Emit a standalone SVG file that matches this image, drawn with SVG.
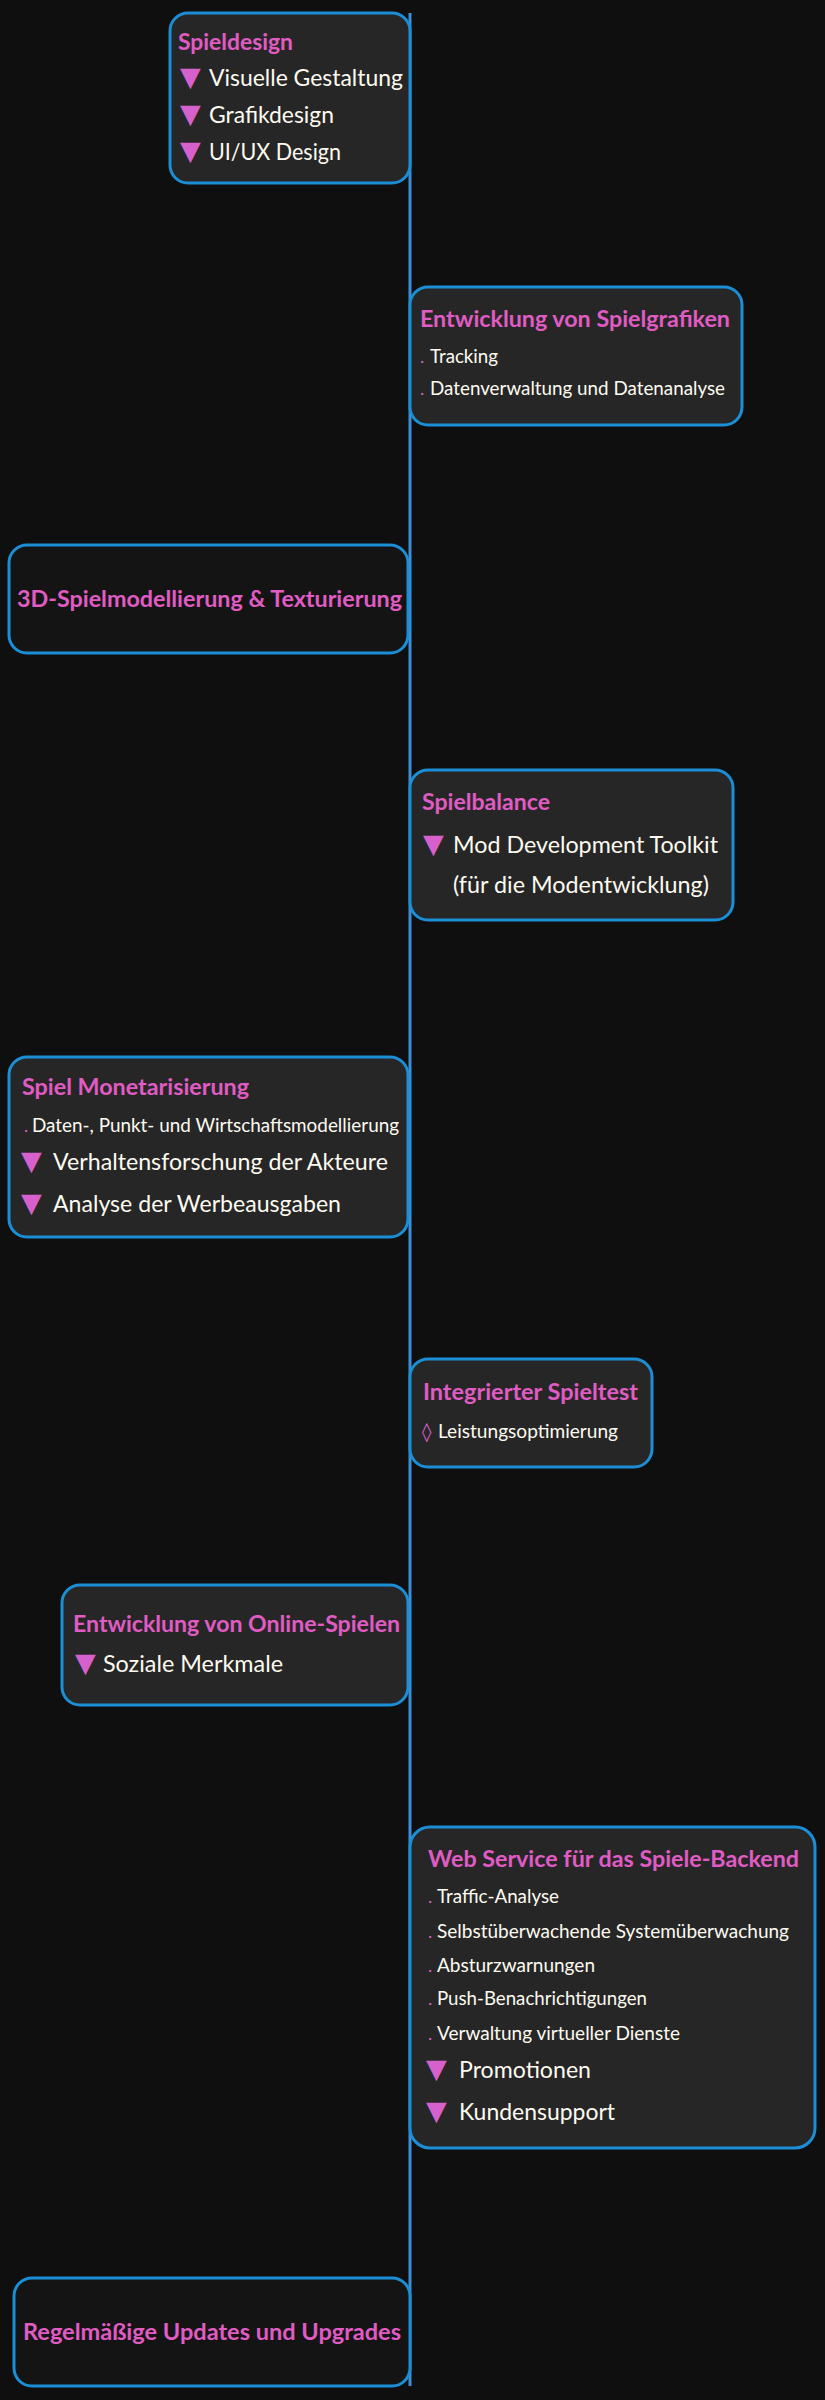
<svg xmlns="http://www.w3.org/2000/svg" width="825" height="2400" viewBox="0 0 825 2400">
<style>
.box{fill:#262626;stroke:#1b8ed6;stroke-width:3}
.box2{fill:#141414;stroke:#1b8ed6;stroke-width:3}
.t{font-family:Lato,"Liberation Sans",sans-serif;font-weight:bold;font-size:23px;fill:#e05cc4}
.m{font-family:Lato,"Liberation Sans",sans-serif;font-size:23px;fill:#fdfaf0}
.s{font-family:Lato,"Liberation Sans",sans-serif;font-size:18.5px;fill:#fdfaf0}
.tri{font-family:"DejaVu Sans",sans-serif;font-size:27px;fill:#d660cc}
.dot{font-family:Lato,"Liberation Sans",sans-serif;font-size:18px;fill:#d660cc}
.dia{font-family:"DejaVu Sans",sans-serif;font-size:19px;fill:#d660cc}
</style>
<rect width="825" height="2400" fill="#0f0f0f"/>
<g id="connectors">
<line x1="410" y1="13" x2="410" y2="2386" stroke="#3a8fd8" stroke-width="3"/>
</g>
<g id="spieldesign">
<rect class="box" x="170" y="13" width="240" height="170" rx="18"/>
<text class="t" x="178" y="50" textLength="115" lengthAdjust="spacingAndGlyphs">Spieldesign</text>
<text class="tri" x="180" y="86">▼</text>
<text class="m" x="209" y="86" textLength="194" lengthAdjust="spacingAndGlyphs">Visuelle Gestaltung</text>
<text class="tri" x="180" y="123">▼</text>
<text class="m" x="209" y="123" textLength="125" lengthAdjust="spacingAndGlyphs">Grafikdesign</text>
<text class="tri" x="180" y="160">▼</text>
<text class="m" x="209" y="160" textLength="132" lengthAdjust="spacingAndGlyphs">UI/UX Design</text>
</g>
<g id="spielgrafiken">
<rect class="box" x="410" y="287" width="332" height="138" rx="18"/>
<text class="t" x="420" y="327" textLength="310" lengthAdjust="spacingAndGlyphs">Entwicklung von Spielgrafiken</text>
<text class="dot" x="420" y="363">.</text>
<text class="s" x="430" y="363" textLength="68" lengthAdjust="spacingAndGlyphs">Tracking</text>
<text class="dot" x="420" y="395">.</text>
<text class="s" x="430" y="395" textLength="295" lengthAdjust="spacingAndGlyphs">Datenverwaltung und Datenanalyse</text>
</g>
<g id="modellierung">
<rect class="box2" x="9" y="545" width="399" height="108" rx="18"/>
<text class="t" x="17" y="607" textLength="385" lengthAdjust="spacingAndGlyphs">3D-Spielmodellierung &amp; Texturierung</text>
</g>
<g id="spielbalance">
<rect class="box" x="410" y="770" width="323" height="150" rx="18"/>
<text class="t" x="422" y="810" textLength="128" lengthAdjust="spacingAndGlyphs">Spielbalance</text>
<text class="tri" x="423" y="853">▼</text>
<text class="m" x="453" y="853" textLength="265" lengthAdjust="spacingAndGlyphs">Mod Development Toolkit</text>
<text class="m" x="453" y="893" textLength="256" lengthAdjust="spacingAndGlyphs">(für die Modentwicklung)</text>
</g>
<g id="monetarisierung">
<rect class="box" x="9" y="1057" width="399" height="180" rx="18"/>
<text class="t" x="22" y="1095" textLength="227" lengthAdjust="spacingAndGlyphs">Spiel Monetarisierung</text>
<text class="dot" x="24" y="1132">.</text>
<text class="s" x="32" y="1132" textLength="367" lengthAdjust="spacingAndGlyphs">Daten-, Punkt- und Wirtschaftsmodellierung</text>
<text class="tri" x="21" y="1170">▼</text>
<text class="m" x="53" y="1170" textLength="335" lengthAdjust="spacingAndGlyphs">Verhaltensforschung der Akteure</text>
<text class="tri" x="21" y="1212">▼</text>
<text class="m" x="53" y="1212" textLength="288" lengthAdjust="spacingAndGlyphs">Analyse der Werbeausgaben</text>
</g>
<g id="spieltest">
<rect class="box" x="410" y="1359" width="242" height="108" rx="18"/>
<text class="t" x="423" y="1400" textLength="215" lengthAdjust="spacingAndGlyphs">Integrierter Spieltest</text>
<text class="dia" x="422" y="1438">◊</text>
<text class="s" x="438" y="1438" textLength="180" lengthAdjust="spacingAndGlyphs">Leistungsoptimierung</text>
</g>
<g id="online">
<rect class="box" x="62" y="1585" width="346" height="120" rx="18"/>
<text class="t" x="73" y="1632" textLength="327" lengthAdjust="spacingAndGlyphs">Entwicklung von Online-Spielen</text>
<text class="tri" x="75" y="1672">▼</text>
<text class="m" x="103" y="1672" textLength="180" lengthAdjust="spacingAndGlyphs">Soziale Merkmale</text>
</g>
<g id="webservice">
<rect class="box" x="410" y="1827" width="405" height="321" rx="20"/>
<text class="t" x="428" y="1867" textLength="371" lengthAdjust="spacingAndGlyphs">Web Service für das Spiele-Backend</text>
<text class="dot" x="428" y="1903">.</text>
<text class="s" x="437" y="1903" textLength="122" lengthAdjust="spacingAndGlyphs">Traffic-Analyse</text>
<text class="dot" x="428" y="1938">.</text>
<text class="s" x="437" y="1938" textLength="352" lengthAdjust="spacingAndGlyphs">Selbstüberwachende Systemüberwachung</text>
<text class="dot" x="428" y="1972">.</text>
<text class="s" x="437" y="1972" textLength="158" lengthAdjust="spacingAndGlyphs">Absturzwarnungen</text>
<text class="dot" x="428" y="2005">.</text>
<text class="s" x="437" y="2005" textLength="210" lengthAdjust="spacingAndGlyphs">Push-Benachrichtigungen</text>
<text class="dot" x="428" y="2040">.</text>
<text class="s" x="437" y="2040" textLength="243" lengthAdjust="spacingAndGlyphs">Verwaltung virtueller Dienste</text>
<text class="tri" x="426" y="2078">▼</text>
<text class="m" x="459" y="2078" textLength="132" lengthAdjust="spacingAndGlyphs">Promotionen</text>
<text class="tri" x="426" y="2120">▼</text>
<text class="m" x="459" y="2120" textLength="156" lengthAdjust="spacingAndGlyphs">Kundensupport</text>
</g>
<g id="updates">
<rect class="box2" x="14" y="2278" width="396" height="108" rx="18"/>
<text class="t" x="23" y="2340" textLength="378" lengthAdjust="spacingAndGlyphs">Regelmäßige Updates und Upgrades</text>
</g>
</svg>
